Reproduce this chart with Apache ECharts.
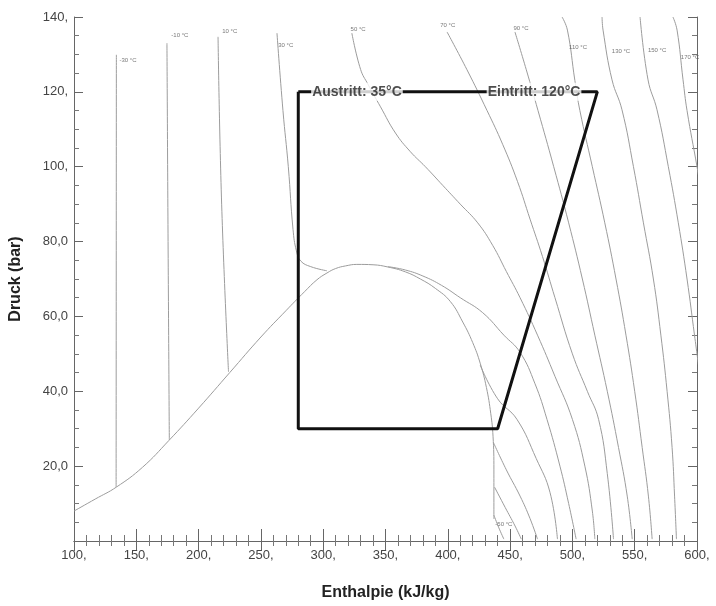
<!DOCTYPE html>
<html>
<head>
    <meta charset="utf-8">
    <title>CO2 log p-h Diagramm</title>
    <script src="https://cdn.jsdelivr.net/npm/echarts@6/dist/echarts.min.js"></script>
    <style>
        html, body { margin: 0; padding: 0; background: #fff; }
    </style>
</head>
<body>
    <div id="main" style="width: 716px;height:606px;"></div>

    <script type="text/javascript">
        // Achsen
        var xTicks = [100, 150, 200, 250, 300, 350, 400, 450, 500, 550, 600];
        var yTicks = [0, 20, 40, 60, 80, 100, 120, 140];

        // Nassdampfgebiet (Grenzkurve), [h, p]
        var dome = [[100,8],[117,11.2],[134,14.4],[155,19.7],[176,26.8],[200,35.5],[225,45],[250,54.5],
            [270,61.5],[285,66.6],[295,69.8],[303,71.6],[310,72.8],[318,73.5],[327,73.9],[340,73.8],[352,73.2],
            [366,71.9],[378,70],[390,67.5],[402,64],[412,58.5],[420,53],[426,47.5],[431,41],[434.5,34],
            [436.3,28],[437,19],[437,5.9]];

        // Isothermen, [h, p]
        var isoM50 = [[437,6.9],[441,3.5],[445,0.5]];
        var isoM30 = [[134,129.9],[133.8,14.4]];
        var isoM30v = [[437.5,14.4],[446,9],[454,4],[459,0.5]];
        var isoM10 = [[174.6,133],[175.5,80],[176.5,27]];
        var isoM10v = [[436.5,26.4],[447,19],[458,12],[466,6],[472,0.5]];
        var iso10 = [[215.6,134.7],[218.5,90],[224,45.2]];
        var iso10v = [[426,47],[440,38],[455.5,32.5],[471,22],[482,13],[488,0.5]];
        var iso30 = [[262.9,135.7],[267.7,115],[272,100],[275.8,83.2],[278.5,77.5],[282,74.8],[290,73.3],[303,72.2]];
        var iso30v = [[352,73.3],[366,72.4],[380,70.8],[395,68.3],[410,65],[428,61],[445,55],[458,50.4],
            [470,42],[479.6,32.5],[490,20],[497,10],[503,0.5]];
        var iso50 = [[323,135.7],[330,126],[336,122],[346,116],[358,109],[370,104],[382,100],[396,95],[410,90],
            [424,85],[436,79],[447,72],[458,65],[472,55],[486,44],[500,32.5],[510,20],[516,8],[518,0.5]];
        var iso70 = [[399.4,136],[415.4,125.9],[431.5,115],[444,106],[456,96],[466,86],[476,76],[486,65],
            [500,50],[512,40],[521,32.5],[528,18],[533,0.5]];
        var iso90 = [[453.9,136],[463,125.9],[472.4,115],[485,100],[497,85],[508,70],[518,55],[528,40],
            [537,25],[544,12],[548,0.5]];
        var iso110 = [[491.7,140],[496,136.5],[502,123],[506,115],[516,100],[526,85],[535,70],[543,55],
            [550,40],[556,25],[561,12],[564,0.5]];
        var iso130 = [[523.8,140],[524.6,136.5],[531.8,123.2],[539.8,115.2],[549,100],[557,85],[565,70],
            [571,55],[576,40],[580,25],[582,12],[583.5,0.5]];
        var iso150 = [[554.3,140],[560.7,123.2],[567.9,115.2],[577,100],[585,85],[592,70],[598,55],[602,45]];
        var iso170 = [[580.7,140],[584,136.5],[588.8,123.2],[592,115],[600,100],[606,88]];

        var isoNames = ['-30 °C','-10 °C','10 °C','30 °C','50 °C','70 °C','90 °C','110 °C','130 °C','150 °C','170 °C','-50 °C'];
        var isoLabelPos = [[143.3,128.5],[185,135],[225,136.3],[270,132.5],[328,136.8],[400,137.9],[458.7,137],
            [504.5,132],[539,130.7],[568,131.2],[594.4,129.3],[445,4.5]];

        // Prozess (Gaskühler / Verdampfer)
        var cycle = [[280,120],[280,30],[440,30],[520,120],[280,120]];
        var cycleNames = ['Austritt: 35°C', 'Eintritt: 120°C'];
        var cycleLabelPos = [[327.1,120],[469.2,120]];

        var myChart = echarts.init(document.getElementById('main'));

        function fmt(v) {
            if (v === 0) return '';
            return v.toFixed(1).replace('.', ',').slice(0, 4);
        }

        var font = 'Liberation Sans, Arial, sans-serif';
        var grey = '#9c9c9c';

        var isoLines = [dome, isoM50, isoM30, isoM30v, isoM10, isoM10v, iso10, iso10v, iso30, iso30v, iso50,
            iso70, iso90, iso110, iso130, iso150, iso170];

        var series = [];
        isoLines.forEach(function (d) {
            series.push({
                type: 'line',
                data: d,
                symbol: 'none',
                smooth: 0.45,
                silent: true,
                lineStyle: { color: grey, width: 1 },
                z: 2
            });
        });
        series.push({
            type: 'line',
            data: cycle,
            symbol: 'none',
            lineStyle: { color: '#111', width: 3 },
            z: 4
        });
        series.push({
            type: 'scatter',
            symbolSize: 0,
            data: isoNames.map(function (n, i) { return { name: n, value: isoLabelPos[i] }; }),
            label: { show: true, position: 'inside', formatter: '{b}', fontSize: 6, color: '#555', fontFamily: font },
            z: 5
        });
        series.push({
            type: 'scatter',
            symbolSize: 0,
            data: cycleNames.map(function (n, i) { return { name: n, value: cycleLabelPos[i] }; }),
            label: {
                show: true, position: 'inside', formatter: '{b}', fontSize: 14, fontWeight: 'bold',
                color: '#222', fontFamily: font, backgroundColor: '#fff', padding: [2, 1]
            },
            z: 6
        });

        var axisLine = { show: true, lineStyle: { color: '#666', width: 1 } };

        var option = {
            animation: false,
            textStyle: { fontFamily: font },
            grid: { left: 74, right: 19, top: 17, bottom: 64 },
            xAxis: [{
                type: 'value', min: 100, max: 600, interval: 50,
                name: 'Enthalpie (kJ/kg)', nameLocation: 'middle', nameGap: 44,
                nameTextStyle: { fontSize: 16, fontWeight: 'bold', color: '#222' },
                axisLine: axisLine,
                axisTick: { inside: true, length: 12, lineStyle: { color: '#666' } },
                minorTick: { show: true, splitNumber: 5, length: 6, lineStyle: { color: '#777' } },
                axisLabel: { formatter: fmt, color: '#444', fontSize: 13, margin: 8 },
                splitLine: { show: false }
            }, {
                type: 'value', min: 100, max: 600, interval: 50, position: 'top',
                axisLine: axisLine,
                axisTick: { inside: true, length: 10, lineStyle: { color: '#666' } },
                minorTick: { show: true, splitNumber: 5, length: 5, lineStyle: { color: '#777' } },
                axisLabel: { show: false },
                splitLine: { show: false }
            }],
            yAxis: [{
                type: 'value', min: 0, max: 140, interval: 20,
                name: 'Druck (bar)', nameLocation: 'middle', nameGap: 50,
                nameTextStyle: { fontSize: 16, fontWeight: 'bold', color: '#222' },
                axisLine: axisLine,
                axisTick: { inside: true, length: 9, lineStyle: { color: '#666' } },
                minorTick: { show: true, splitNumber: 4, length: 5, lineStyle: { color: '#777' } },
                axisLabel: { formatter: fmt, color: '#444', fontSize: 13, margin: 6 },
                splitLine: { show: false }
            }, {
                type: 'value', min: 0, max: 140, interval: 20, position: 'right',
                axisLine: axisLine,
                axisTick: { inside: true, length: 9, lineStyle: { color: '#666' } },
                minorTick: { show: true, splitNumber: 4, length: 5, lineStyle: { color: '#777' } },
                axisLabel: { show: false },
                splitLine: { show: false }
            }],
            series: series
        };

        myChart.setOption(option);
    </script>
</body>
</html>
